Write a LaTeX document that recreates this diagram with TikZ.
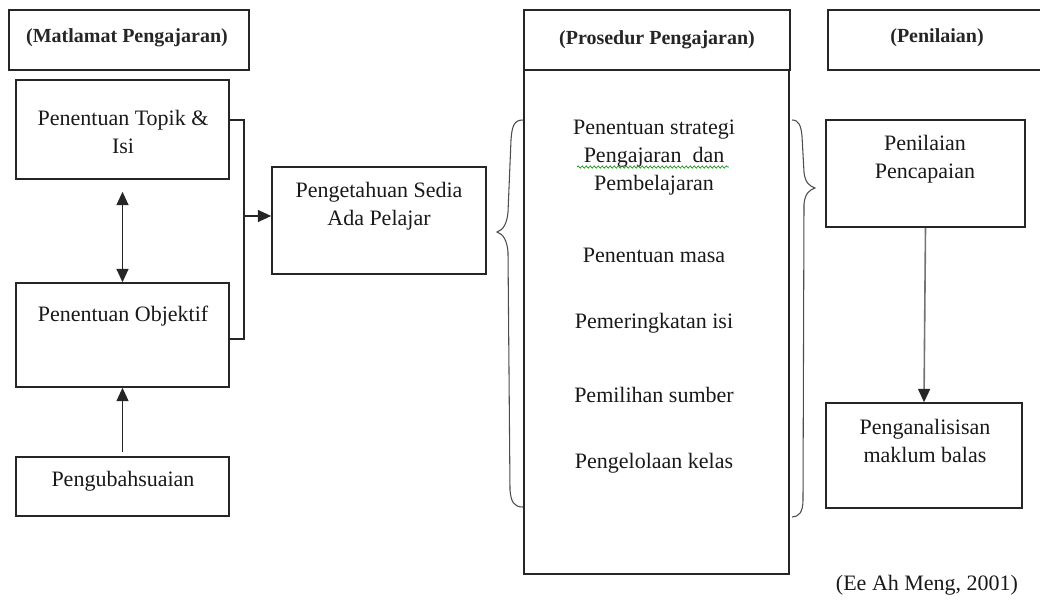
\documentclass[tikz,border=0pt]{standalone}
\usepackage{fontspec}
\setmainfont{Liberation Serif}
\usetikzlibrary{fit,arrows.meta,decorations.pathmorphing}
\tikzset{
  box/.style={draw=black!85, line width=1.2pt, inner sep=0pt},
  txt/.style={align=center, font=\fontsize{16.5}{21}\selectfont, inner sep=0pt, text=black!90},
  hdr/.style={align=center, font=\bfseries\fontsize{15}{18}\selectfont, inner sep=0pt, text=black!85},
  conn/.style={draw=black!85, line width=1pt},
  arr/.style={conn, -{Triangle[length=10pt,width=9pt]}},
  grayarr/.style={draw=black!55, line width=1.2pt, -{Triangle[length=10pt,width=9pt,color=black!85]}},
  dblarr/.style={conn, {Triangle[length=10pt,width=9pt]}-{Triangle[length=10pt,width=9pt]}},
  brace/.style={draw=black!70, line width=0.8pt},
}
\begin{document}
\begin{tikzpicture}[x=0.75pt,y=-0.75pt]
\useasboundingbox (0,0) rectangle (1040,604);
\clip (0,0) rectangle (1040,604);
% boxes
\node[box, fit={(9,10) (249,70)}] (h1) {};
\node[box, fit={(16,80) (229,179)}] (topik) {};
\node[box, fit={(16,283) (229,387)}] (obj) {};
\node[box, fit={(16,457) (229,516)}] (ubah) {};
\node[box, fit={(272,167) (486,274)}] (peng) {};
\node[box, fit={(524,10) (790,70)}] (h2) {};
\node[box, fit={(524,70) (789,574)}] (proc) {};
\node[box, fit={(828,10) (1050,70)}] (h3) {};
\node[box, fit={(826,120) (1025,227)}] (capai) {};
\node[box, fit={(826,403) (1022,508)}] (anal) {};
% texts
\node[hdr] (t1) at (127,38) {(Matlamat Pengajaran)};
\node[hdr] (t2) at (657,40) {(Prosedur Pengajaran)};
\node[hdr] (t3) at (937,38) {(Penilaian)};
\node[txt, anchor=north] (ttopik) at (123,110) {Penentuan Topik \&\\Isi};
\node[txt] (tobj) at (123,316) {Penentuan Objektif};
\node[txt] (tubah) at (123,481) {Pengubahsuaian};
\node[txt, anchor=north] (tpeng) at (379,182) {Pengetahuan Sedia\\Ada Pelajar};
\node[txt, anchor=north] (ts1) at (654,120) {Penentuan strategi\\Pengajaran\ \ dan\\Pembelajaran};
\node[txt] (ts2) at (654,255) {Penentuan masa};
\node[txt] (ts3) at (654,323) {Pemeringkatan isi};
\node[txt] (ts4) at (654,395) {Pemilihan sumber};
\node[txt] (ts5) at (654,463) {Pengelolaan kelas};
\node[txt, anchor=north] (tcapai) at (925,135) {Penilaian\\Pencapaian};
\node[txt, anchor=north] (tanal) at (925,419) {Penganalisisan\\maklum balas};
\node[txt] (cite) at (927,585) {(Ee Ah Meng, 2001)};
% spell-check underline
\draw[green!55!black, line width=0.5pt, decorate, decoration={snake, amplitude=0.8pt, segment length=3pt}] (577,167) -- (729,167);
% connectors
\coordinate (jt) at (244,120);
\coordinate (jb) at (244,339);
\coordinate (jm) at (244,216);
\draw[conn] (topik.east |- jt) -- (jt) -- (jb) -- (obj.east |- jb);
\draw[arr] (jm) -- (peng.west |- jm);
\draw[dblarr, shorten <=9pt] (topik.south) -- (obj.north);
\draw[arr, shorten <=3.5pt] (ubah.north) -- (obj.south);
\draw[grayarr] (capai.south) -- (anal.north);
% braces
\draw[brace] (523,120) .. controls (514,120) and (512,126) .. (511,140)
  -- (508,212) .. controls (507,224) and (503,230) .. (497,232)
  .. controls (503,234) and (507,240) .. (508,252)
  -- (510,490) .. controls (511,502) and (514,507) .. (523,507);
\draw[brace] (792,120) .. controls (799,120) and (801,126) .. (802,136)
  -- (804,172) .. controls (805,182) and (809,186) .. (815,188)
  .. controls (809,190) and (805,194) .. (804,204)
  -- (803,500) .. controls (803,512) and (799,517) .. (792,517);
\end{tikzpicture}
\end{document}
